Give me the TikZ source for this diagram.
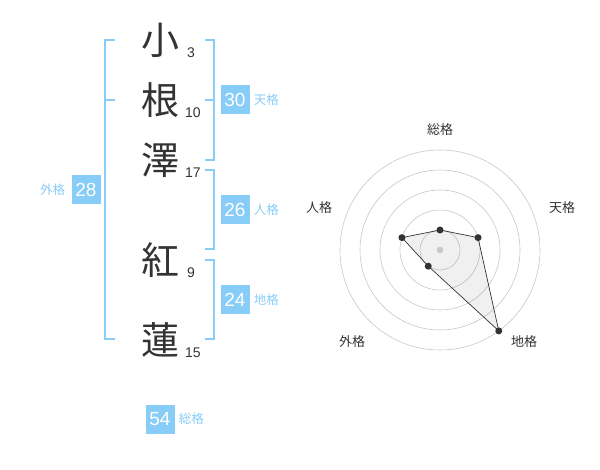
\documentclass[tikz,border=0pt]{standalone}
\usepackage{fontspec}
\setmainfont{Liberation Sans}
\newfontfamily\jpfont{Noto Sans CJK JP}
\usetikzlibrary{positioning}
\definecolor{gradeblue}{HTML}{88CCF8}
\definecolor{inkgray}{HTML}{333333}
\definecolor{ringgray}{HTML}{C8C8C8}

\begin{document}
\begin{tikzpicture}[
    x=1pt, y=-1pt,
    node distance=4pt,
    kanjinode/.style={
        inner sep=0pt, text=inkgray, font=\jpfont\fontsize{38}{38}\selectfont
      },
    strokenum/.style={
        anchor=west, inner sep=0pt, text=inkgray, font=\fontsize{14}{14}\selectfont
      },
    gradebox/.style={
        fill=gradeblue, text=white, minimum size=29pt, inner sep=0pt,
        font=\fontsize{19}{19}\selectfont
      },
    gradelabel/.style={
        inner sep=0pt, text=gradeblue, font=\jpfont\fontsize{12.5}{12.5}\selectfont
      },
    radarlabel/.style={
        inner sep=0pt, text=inkgray, font=\jpfont\fontsize{13}{13}\selectfont
      },
    bracketline/.style={draw=gradeblue, line width=2pt},
    ring/.style={draw=ringgray, line width=0.6pt},
    dot/.style={circle, fill=inkgray, inner sep=0pt, minimum size=7pt},
  ]
  \useasboundingbox (0,0) rectangle (600,470);
  % name characters and stroke counts
  \node[kanjinode](k1) at (160,40) {小};
  \node[kanjinode](k2) at (160,100) {根};
  \node[kanjinode](k3) at (160,160) {澤};
  \node[kanjinode](k4) at (160,260) {紅};
  \node[kanjinode](k5) at (160,340) {蓮};
  \node[strokenum](n1) at (187,53) {3};
  \node[strokenum](n2) at (185,113) {10};
  \node[strokenum](n3) at (185,173) {17};
  \node[strokenum](n4) at (187,273) {9};
  \node[strokenum](n5) at (185,353) {15};
  % brackets
  \draw[bracketline] (115,40) -- (105,40) -- (105,339) -- (115,339);
  \draw[bracketline] (105,100) -- (115,100);
  \draw[bracketline] (205,40) -- (214,40) -- (214,160) -- (205,160);
  \draw[bracketline] (205,100) -- (214,100);
  \draw[bracketline] (205,170) -- (214,170) -- (214,249) -- (205,249);
  \draw[bracketline] (205,260) -- (214,260) -- (214,339) -- (205,339);
  % grades
  \node[gradebox](ten) at (235,100) {30};
  \node[gradelabel] [right=of ten] {天格};
  \node[gradebox](jin) at (235,210) {26};
  \node[gradelabel] [right=of jin] {人格};
  \node[gradebox](chi) at (235,300) {24};
  \node[gradelabel] [right=of chi] {地格};
  \node[gradebox](gai) at (86,190) {28};
  \node[gradelabel] [left=6pt of gai] {外格};
  \node[gradebox](sou) at (160,419) {54};
  \node[gradelabel] [right=of sou] {総格};
  % radar chart
  \begin{scope}[shift={(440,250)}, yscale=-1]
    \foreach \r in {20,40,...,100}
      \draw[ring] (0,0) circle[radius=\r];
    \coordinate (p-sou) at (90:20);
    \coordinate (p-ten) at (18:40);
    \coordinate (p-chi) at (-54:100);
    \coordinate (p-gai) at (-126:20);
    \coordinate (p-jin) at (162:40);
    \draw[inkgray, line width=0.7pt, fill=black, fill opacity=0.06]
      (p-sou) -- (p-ten) -- (p-chi) -- (p-gai) -- (p-jin) -- cycle;
    \node[circle, fill=ringgray, inner sep=0pt, minimum size=6.5pt](mid) at (0,0) {};
    \foreach \p in {sou,ten,chi,gai,jin}
      \node[dot] at (p-\p) {};
  \end{scope}
  \node[radarlabel](l-sou) at (440,130) {総格};
  \node[radarlabel](l-ten) at (562,208) {天格};
  \node[radarlabel](l-chi) at (524,342) {地格};
  \node[radarlabel](l-gai) at (352,342) {外格};
  \node[radarlabel](l-jin) at (319,208) {人格};
\end{tikzpicture}
\end{document}
